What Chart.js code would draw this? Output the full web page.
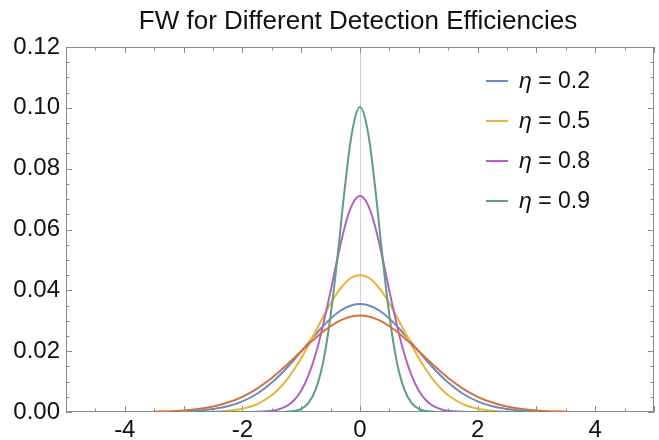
<!DOCTYPE html>
<html>
<head>
<meta charset="utf-8">
<script src="https://cdn.jsdelivr.net/npm/chart.js@4.4.1/dist/chart.umd.min.js"></script>
<style>
  html, body { margin: 0; padding: 0; background: #fff; }
</style>
</head>
<body>
<canvas id="chart" width="659" height="440"></canvas>
<script>
// sample positions along x (denser near the peak)
const xValues = [-3.5, -3.25, -3, -2.75, -2.5, -2.25, -2, -1.75, -1.5, -1.375, -1.25, -1.125,
  -1, -0.875, -0.75, -0.625, -0.5, -0.375, -0.25, -0.125, 0, 0.125, 0.25, 0.375, 0.5, 0.625,
  0.75, 0.875, 1, 1.125, 1.25, 1.375, 1.5, 1.75, 2, 2.25, 2.5, 2.75, 3, 3.25, 3.5];

// values
const eta02 = [0, 0.0001, 0.0002, 0.0004, 0.0010, 0.0019, 0.0035, 0.0060, 0.0097, 0.0119, 0.0144, 0.0171,
  0.0199, 0.0228, 0.0256, 0.0283, 0.0307, 0.0327, 0.0342, 0.0352, 0.0355, 0.0352, 0.0342, 0.0327, 0.0307, 0.0283,
  0.0256, 0.0228, 0.0199, 0.0171, 0.0144, 0.0119, 0.0097, 0.0060, 0.0035, 0.0019, 0.0010, 0.0004, 0.0002, 0.0001, 0];
const eta05 = [0, 0, 0, 0, 0.0001, 0.0004, 0.0011, 0.0026, 0.0055, 0.0077, 0.0105, 0.0139,
  0.0177, 0.0221, 0.0267, 0.0313, 0.0357, 0.0395, 0.0425, 0.0444, 0.0450, 0.0444, 0.0425, 0.0395, 0.0357, 0.0313,
  0.0267, 0.0221, 0.0177, 0.0139, 0.0105, 0.0077, 0.0055, 0.0026, 0.0011, 0.0004, 0.0001, 0, 0, 0, 0];
const eta08 = [0, 0, 0, 0, 0, 0, 0, 0.0001, 0.0004, 0.0009, 0.0019, 0.0038,
  0.0070, 0.0121, 0.0193, 0.0288, 0.0398, 0.0513, 0.0615, 0.0685, 0.0710, 0.0685, 0.0615, 0.0513, 0.0398, 0.0288,
  0.0193, 0.0121, 0.0070, 0.0038, 0.0019, 0.0009, 0.0004, 0.0001, 0, 0, 0, 0, 0, 0, 0];
const eta09 = [0, 0, 0, 0, 0, 0, 0, 0, 0, 0, 0.0001, 0.0003,
  0.0010, 0.0030, 0.0076, 0.0166, 0.0317, 0.0524, 0.0751, 0.0931, 0.1003, 0.0931, 0.0751, 0.0524, 0.0317, 0.0166,
  0.0076, 0.0030, 0.0010, 0.0003, 0.0001, 0, 0, 0, 0, 0, 0, 0, 0, 0, 0];
const unlabeled = [0.0001, 0.0002, 0.0005, 0.0010, 0.0018, 0.0031, 0.0050, 0.0077, 0.0112, 0.0132, 0.0154, 0.0177,
  0.0200, 0.0223, 0.0244, 0.0265, 0.0282, 0.0297, 0.0308, 0.0315, 0.0317, 0.0315, 0.0308, 0.0297, 0.0282, 0.0265,
  0.0244, 0.0223, 0.0200, 0.0177, 0.0154, 0.0132, 0.0112, 0.0077, 0.0050, 0.0031, 0.0018, 0.0010, 0.0005, 0.0002, 0.0001];

const seriesLabels = ["0.2", "0.5", "0.8", "0.9", ""];
const seriesValues = [eta02, eta05, eta08, eta09, unlabeled];
const seriesColors = ["#6a8ac6", "#e7b23a", "#b55fc4", "#5f9c88", "#d9703c"];

const xLabelTicks = [-4, -2, 0, 2, 4];
const yLabelTicks = [0, 0.02, 0.04, 0.06, 0.08, 0.10, 0.12];

const FONT = "'Liberation Sans', Arial, Helvetica, sans-serif";
const AXIS_COLOR = "#8a8a8a";

// frame with inward ticks, like the original plot
const framePlugin = {
  id: "frame",
  beforeDatasetsDraw(chart) {
    const { ctx, chartArea: a, scales } = chart;
    ctx.save();
    ctx.strokeStyle = AXIS_COLOR;
    ctx.lineWidth = 1;
    ctx.strokeRect(a.left + 0.5, a.top + 0.5, a.right - a.left - 1, a.bottom - a.top - 1);
    ctx.beginPath();
    scales.x.ticks.forEach(t => {
      const px = Math.round(scales.x.getPixelForValue(t.value)) + 0.5;
      const len = Number.isInteger(t.value) ? 6 : 3.5;
      ctx.moveTo(px, a.bottom); ctx.lineTo(px, a.bottom - len);
      ctx.moveTo(px, a.top); ctx.lineTo(px, a.top + len);
    });
    scales.y.ticks.forEach(t => {
      const py = Math.round(scales.y.getPixelForValue(t.value)) + 0.5;
      const major = yLabelTicks.some(v => Math.abs(v - t.value) < 1e-9);
      const len = major ? 6 : 3.5;
      ctx.moveTo(a.left, py); ctx.lineTo(a.left + len, py);
      ctx.moveTo(a.right, py); ctx.lineTo(a.right - len, py);
    });
    ctx.stroke();
    ctx.restore();
  }
};

// title centred over the plot area
const titlePlugin = {
  id: "plotTitle",
  afterDraw(chart) {
    const { ctx, chartArea: a } = chart;
    ctx.save();
    ctx.font = "26px " + FONT;
    ctx.fillStyle = "#111";
    ctx.textAlign = "center";
    ctx.textBaseline = "middle";
    ctx.fillText("FW for Different Detection Efficiencies", (a.left + a.right) / 2 - 2, 22);
    ctx.restore();
  }
};

// legend inside the plot, top right
const legendPlugin = {
  id: "plotLegend",
  afterDatasetsDraw(chart) {
    const { ctx, chartArea: a } = chart;
    ctx.save();
    let row = 0;
    chart.data.datasets.forEach(ds => {
      if (!ds.label) return;
      const y = a.top + 34 + row * 40;
      const x0 = a.right - 168;
      ctx.strokeStyle = ds.borderColor;
      ctx.lineWidth = 2;
      ctx.beginPath();
      ctx.moveTo(x0, y); ctx.lineTo(x0 + 22, y);
      ctx.stroke();
      ctx.fillStyle = "#111";
      ctx.textBaseline = "middle";
      ctx.textAlign = "left";
      ctx.font = "italic 23px " + FONT;
      const tx = x0 + 33;
      ctx.fillText("\u03B7", tx, y + 1);
      const w = ctx.measureText("\u03B7").width;
      ctx.font = "23px " + FONT;
      ctx.fillText(" = " + ds.label, tx + w, y + 1);
      row++;
    });
    ctx.restore();
  }
};

const datasets = seriesValues.map((vals, i) => ({
  label: seriesLabels[i],
  data: xValues.map((x, j) => ({ x: x, y: vals[j] })),
  borderColor: seriesColors[i],
  backgroundColor: seriesColors[i],
  borderWidth: 2,
  pointRadius: 0,
  tension: 0.35,
  fill: false,
  clip: 0,
  order: seriesValues.length - i,
}));

new Chart(document.getElementById("chart").getContext("2d"), {
  type: "line",
  data: { datasets: datasets },
  options: {
    responsive: false,
    animation: false,
    devicePixelRatio: 1,
    layout: { padding: { top: 47, right: 5, left: 0, bottom: 0 } },
    plugins: {
      legend: { display: false },
      title: { display: false },
      tooltip: { enabled: false },
    },
    scales: {
      x: {
        type: "linear",
        min: -5,
        max: 5,
        afterFit: s => { s.height = 28; },
        border: { display: false },
        grid: {
          drawTicks: false,
          lineWidth: 1,
          color: c => (c.tick && c.tick.value === 0 ? "#cfcfcf" : "rgba(0,0,0,0)"),
        },
        ticks: {
          stepSize: 0.5,
          autoSkip: false,
          maxRotation: 0,
          padding: 4,
          color: "#111",
          font: { family: FONT, size: 24 },
          callback: v => (xLabelTicks.includes(v) ? String(v) : ""),
        },
      },
      y: {
        min: 0,
        max: 0.12,
        afterFit: s => { s.width = 66; },
        border: { display: false },
        grid: { display: false, drawTicks: false },
        ticks: {
          stepSize: 0.005,
          autoSkip: false,
          padding: 6,
          color: "#111",
          font: { family: FONT, size: 24 },
          callback: v => (yLabelTicks.some(t => Math.abs(t - v) < 1e-9) ? v.toFixed(2) : ""),
        },
      },
    },
  },
  plugins: [framePlugin, titlePlugin, legendPlugin],
});
</script>
</body>
</html>
